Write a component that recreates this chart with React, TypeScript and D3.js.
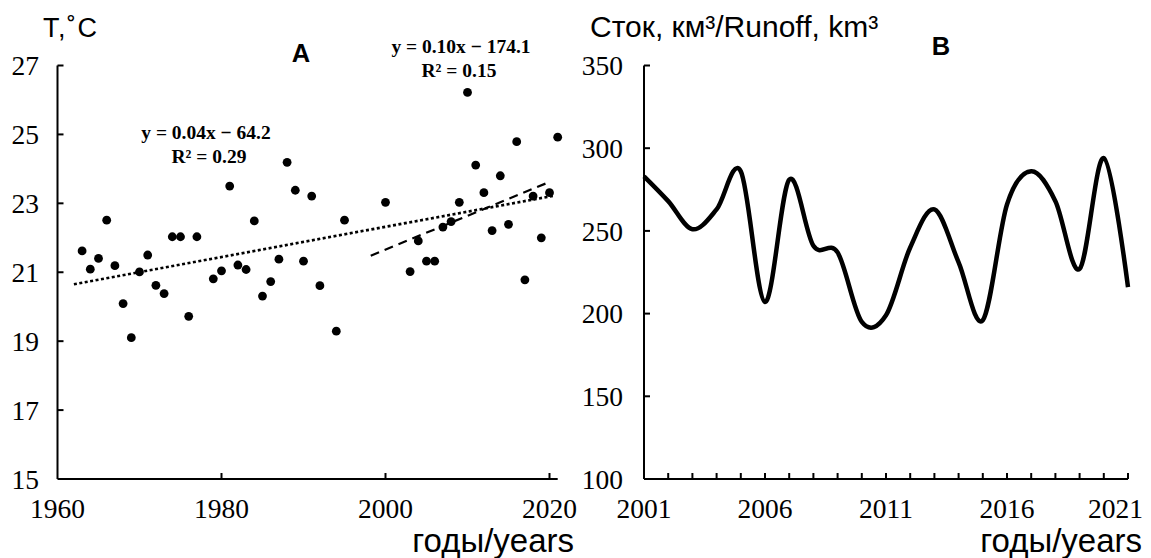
import React from "react";
import * as d3 from "d3";

// ---- Panel A: mean temperature ----
const tempYears = [1963, 1964, 1965, 1966, 1967, 1968, 1969, 1970, 1971, 1972, 1973, 1974, 1975, 1976, 1977, 1979, 1980, 1981, 1982, 1983, 1984, 1985, 1986, 1987, 1988, 1989, 1990, 1991, 1992, 1994, 1995, 2000, 2003, 2004, 2005, 2006, 2007, 2008, 2009, 2010, 2011, 2012, 2013, 2014, 2015, 2016, 2017, 2018, 2019, 2020, 2021];
const tempValues = [21.62, 21.09, 21.4, 22.51, 21.19, 20.09, 19.1, 21.01, 21.5, 20.62, 20.38, 22.03, 22.03, 19.72, 22.03, 20.81, 21.04, 23.5, 21.21, 21.08, 22.49, 20.31, 20.73, 21.38, 24.19, 23.38, 21.32, 23.21, 20.61, 19.29, 22.51, 23.03, 21.02, 21.91, 21.32, 21.32, 22.31, 22.47, 23.03, 26.22, 24.11, 23.31, 22.21, 23.8, 22.39, 24.79, 20.78, 23.21, 22.0, 23.31, 24.92];
const trendAllYears = [1962, 2020.5];
const trendAllValues = [20.65, 23.22];
const trendRecentYears = [1998.2, 2020];
const trendRecentValues = [21.48, 23.62];
const tempYTicks = [15, 17, 19, 21, 23, 25, 27];
const tempXTicks = [1960, 1980, 2000, 2020];

// ---- Panel B: runoff ----
const runoffYears = [2001, 2002, 2003, 2004, 2005, 2006, 2007, 2008, 2009, 2010, 2011, 2012, 2013, 2014, 2015, 2016, 2017, 2018, 2019, 2020, 2021];
const runoffValues = [283, 268, 251, 263, 286, 207, 281, 241, 237, 195, 199, 240, 263, 231, 196, 266, 286, 268, 227, 294, 216];
const runoffYTicks = [100, 150, 200, 250, 300, 350];
const runoffXLabels = [2001, 2006, 2011, 2016, 2021];

const serif = "'Liberation Serif', 'Times New Roman', serif";
const sans = "'Liberation Sans', Arial, sans-serif";
const tickFont = 27.5;

export default function App() {
  const xA = d3.scaleLinear().domain([1960, 2021]).range([57.5, 557.7]);
  const yA = d3.scaleLinear().domain([15, 27]).range([479, 65.5]);
  const xB = d3.scaleLinear().domain([2001, 2021]).range([644, 1128]);
  const yB = d3.scaleLinear().domain([100, 350]).range([479, 65.5]);

  const straight = d3
    .line<[number, number]>()
    .x((d) => xA(d[0]))
    .y((d) => yA(d[1]));
  const allPath = straight(trendAllYears.map((y, i) => [y, trendAllValues[i]] as [number, number]));
  const recentPath = straight(trendRecentYears.map((y, i) => [y, trendRecentValues[i]] as [number, number]));
  const runoffPath = d3
    .line<[number, number]>()
    .x((d) => xB(d[0]))
    .y((d) => yB(d[1]))
    .curve(d3.curveCardinal.tension(0))(runoffYears.map((y, i) => [y, runoffValues[i]] as [number, number]));

  const axisX0A = xA(1960);
  const axisX0B = xB(2001);

  return (
    <svg width={1151} height={558} style={{ position: "absolute", left: 0, top: 0, background: "#fff" }}>
      <rect x={0} y={0} width={1151} height={558} fill="#fff" />
      {/* ===== Panel A ===== */}
      <g>
        <line x1={axisX0A} x2={axisX0A} y1={yA(27)} y2={yA(15)} stroke="#000" strokeWidth={2} />
        <line x1={axisX0A} x2={xA(2021)} y1={yA(15)} y2={yA(15)} stroke="#000" strokeWidth={2} />
        {tempYTicks.map((t) => (
          <g key={"ya" + t}>
            {t !== 15 && <line x1={axisX0A} x2={axisX0A + 6} y1={yA(t)} y2={yA(t)} stroke="#000" strokeWidth={2} />}
            <text x={39} y={yA(t)} dy="0.35em" textAnchor="end" fontFamily={serif} fontSize={tickFont}>
              {t}
            </text>
          </g>
        ))}
        {tempXTicks.map((t) => (
          <g key={"xa" + t}>
            {t !== 1960 && <line x1={xA(t)} x2={xA(t)} y1={yA(15)} y2={yA(15) - 6} stroke="#000" strokeWidth={2} />}
            <text x={xA(t)} y={518} textAnchor="middle" fontFamily={serif} fontSize={tickFont}>
              {t}
            </text>
          </g>
        ))}
        <path d={allPath || ""} fill="none" stroke="#000" strokeWidth={2.6} strokeDasharray="3 2.5" />
        <path d={recentPath || ""} fill="none" stroke="#000" strokeWidth={2.2} strokeDasharray="9 6" />
        {tempYears.map((y, i) => (
          <circle key={"p" + y} cx={xA(y)} cy={yA(tempValues[i])} r={4.4} fill="#000" />
        ))}
        <text x={43} y={37} fontFamily={sans} fontSize={27} letterSpacing={1.5}>
          T,˚C
        </text>
        <text x={301} y={62} textAnchor="middle" fontFamily={sans} fontSize={25.5} fontWeight="bold">
          A
        </text>
        <text x={206} y={139} textAnchor="middle" fontFamily={serif} fontSize={19.5} fontWeight="bold">
          y = 0.04x − 64.2
        </text>
        <text x={209} y={163} textAnchor="middle" fontFamily={serif} fontSize={19.5} fontWeight="bold">
          R² = 0.29
        </text>
        <text x={461} y={53} textAnchor="middle" fontFamily={serif} fontSize={19.5} fontWeight="bold">
          y = 0.10x − 174.1
        </text>
        <text x={459} y={77} textAnchor="middle" fontFamily={serif} fontSize={19.5} fontWeight="bold">
          R² = 0.15
        </text>
        <text x={574} y={552} textAnchor="end" fontFamily={sans} fontSize={33}>
          годы/years
        </text>
      </g>

      {/* ===== Panel B ===== */}
      <g>
        <line x1={axisX0B} x2={axisX0B} y1={yB(350)} y2={yB(100)} stroke="#000" strokeWidth={2} />
        <line x1={axisX0B} x2={xB(2021)} y1={yB(100)} y2={yB(100)} stroke="#000" strokeWidth={2} />
        {runoffYTicks.map((t) => (
          <g key={"yb" + t}>
            {t !== 100 && <line x1={axisX0B} x2={axisX0B + 6} y1={yB(t)} y2={yB(t)} stroke="#000" strokeWidth={2} />}
            <text x={623} y={yB(t)} dy="0.35em" textAnchor="end" fontFamily={serif} fontSize={tickFont}>
              {t}
            </text>
          </g>
        ))}
        {runoffYears.slice(1).map((t) => (
          <line key={"xbt" + t} x1={xB(t)} x2={xB(t)} y1={yB(100)} y2={yB(100) - 6} stroke="#000" strokeWidth={2} />
        ))}
        {runoffXLabels.map((t, i) => (
          <text
            key={"xb" + t}
            x={i === runoffXLabels.length - 1 ? 1143 : xB(t)}
            y={518}
            textAnchor={i === runoffXLabels.length - 1 ? "end" : "middle"}
            fontFamily={serif}
            fontSize={tickFont}
          >
            {t}
          </text>
        ))}
        <path d={runoffPath || ""} fill="none" stroke="#000" strokeWidth={4.5} strokeLinejoin="round" />
        <text x={590} y={37} fontFamily={sans} fontSize={30}>
          Сток, км³/Runoff, km³
        </text>
        <text x={941} y={55} textAnchor="middle" fontFamily={sans} fontSize={25.5} fontWeight="bold">
          B
        </text>
        <text x={1142} y={552} textAnchor="end" fontFamily={sans} fontSize={33}>
          годы/years
        </text>
      </g>
    </svg>
  );
}
